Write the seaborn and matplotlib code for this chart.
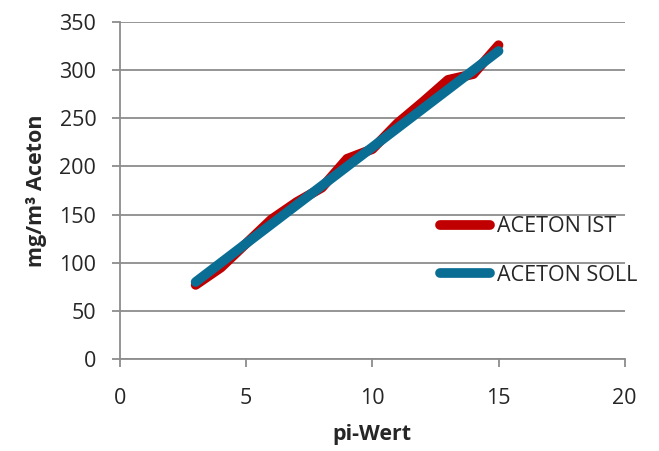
import seaborn as sns
import pandas as pd
import matplotlib
matplotlib.use('Agg')
import matplotlib.pyplot as plt

sns.set_style('white')
plt.rcParams['font.family'] = ['Open Sans', 'DejaVu Sans']

# pi-Wert und Aceton-Werte
pi_wert = [3, 4, 5, 6, 7, 8, 9, 10, 11, 12, 13, 14, 15]
aceton_ist = [77, 95, 120, 145, 163, 178, 208, 218, 245, 267, 290, 296, 326]
aceton_soll = [80, 100, 120, 140, 160, 180, 200, 220, 240, 260, 280, 300, 320]
series = ['ACETON IST', 'ACETON SOLL']
colors = ['#C00000', '#0A6E94']

df = pd.DataFrame({
    'pi-Wert': pi_wert * 2,
    'Aceton': aceton_ist + aceton_soll,
    'Reihe': [series[0]] * len(pi_wert) + [series[1]] * len(pi_wert),
})

fig = plt.figure(figsize=(6.59, 4.51), dpi=100)
ax = fig.add_axes([0.182, 0.204, 0.766, 0.747])

sns.lineplot(
    data=df, x='pi-Wert', y='Aceton', hue='Reihe',
    hue_order=series, palette=colors,
    linewidth=7, ax=ax, legend=False,
    solid_capstyle='round', solid_joinstyle='round',
)

ax.set_xlim(0, 20)
ax.set_ylim(0, 350)
ax.set_xticks([0, 5, 10, 15, 20])
ax.set_yticks(range(0, 351, 50))
ax.yaxis.grid(True, color='#8c8c8c', linewidth=1.3)
ax.xaxis.grid(False)
for s in ['top', 'right']:
    ax.spines[s].set_visible(False)
for s in ['left', 'bottom']:
    ax.spines[s].set_color('#8c8c8c')
    ax.spines[s].set_linewidth(1.3)
ax.tick_params(axis='both', direction='out', length=6, width=1.3,
               color='#8c8c8c', labelsize=15.5, left=True, bottom=True)
ax.tick_params(axis='y', pad=11)
ax.tick_params(axis='x', pad=15)

ax.set_xlabel('pi-Wert', fontsize=15.5, fontweight='bold', labelpad=11)
ax.set_ylabel('mg/m³ Aceton', fontsize=15.5, fontweight='bold', labelpad=9)

handles = [plt.Line2D([0], [0], color=c, linewidth=7, solid_capstyle='round')
           for c in colors]
ax.legend(handles, series, loc='upper left', bbox_to_anchor=(0.63, 0.43),
          frameon=False, fontsize=15.5, handlelength=2.3, handletextpad=0.35,
          labelspacing=1.27, borderaxespad=0, borderpad=0.1)

fig.savefig('out.png', dpi=100)
